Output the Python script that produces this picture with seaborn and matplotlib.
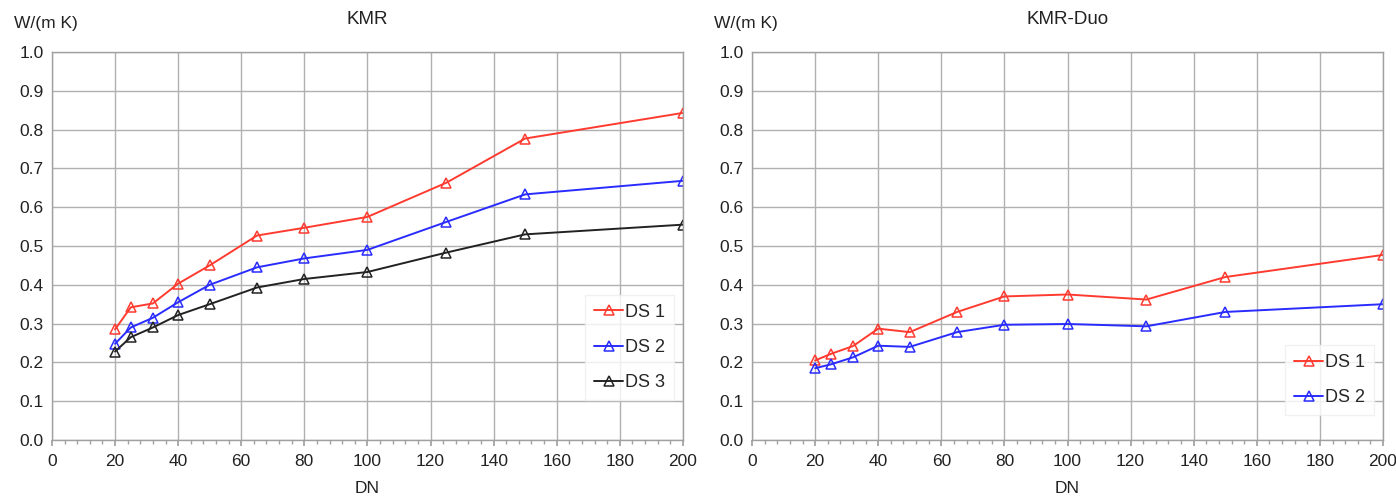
import matplotlib
matplotlib.use("Agg")
import matplotlib.pyplot as plt
import seaborn as sns
import pandas as pd
from matplotlib.ticker import MultipleLocator

dn = [20, 25, 32, 40, 50, 65, 80, 100, 125, 150, 200]

kmr_ds1 = [0.285, 0.342, 0.352, 0.403, 0.450, 0.527, 0.547, 0.575, 0.663, 0.777, 0.843]
kmr_ds2 = [0.248, 0.290, 0.315, 0.355, 0.400, 0.445, 0.468, 0.490, 0.562, 0.633, 0.668]
kmr_ds3 = [0.228, 0.265, 0.290, 0.322, 0.350, 0.393, 0.415, 0.433, 0.483, 0.530, 0.555]

duo_ds1 = [0.205, 0.222, 0.242, 0.287, 0.278, 0.330, 0.370, 0.375, 0.362, 0.420, 0.477]
duo_ds2 = [0.185, 0.195, 0.213, 0.243, 0.240, 0.278, 0.297, 0.299, 0.293, 0.330, 0.350]

titles = ["KMR", "KMR-Duo"]
series_labels = ["DS 1", "DS 2", "DS 3"]
colors = ["#ff3b30", "#2a2cff", "#222222"]

sns.set_theme(style="white")
plt.rcParams['font.family'] = ['Liberation Sans', 'DejaVu Sans']

fig = plt.figure(figsize=(13.96, 5.0), dpi=100)
ax1 = fig.add_axes([0.0372, 0.12, 0.4520, 0.776])
ax2 = fig.add_axes([0.5387, 0.12, 0.4520, 0.776])

panels = [(ax1, [kmr_ds1, kmr_ds2, kmr_ds3]), (ax2, [duo_ds1, duo_ds2])]

for i, (ax, data) in enumerate(panels):
    for j, vals in enumerate(data):
        df = pd.DataFrame({"DN": dn, "val": vals})
        sns.lineplot(data=df, x="DN", y="val", ax=ax, color=colors[j],
                     marker="^", markersize=7, markerfacecolor="none",
                     markeredgecolor=colors[j], markeredgewidth=1.1,
                     linewidth=1.4, label=series_labels[j])
    ax.set_xlim(0, 200)
    ax.set_ylim(0, 1.0)
    ax.xaxis.set_major_locator(MultipleLocator(20))
    ax.yaxis.set_major_locator(MultipleLocator(0.1))
    ax.xaxis.set_minor_locator(MultipleLocator(4))
    ax.yaxis.set_major_formatter(matplotlib.ticker.FormatStrFormatter('%.1f'))
    ax.grid(True, which="major", color="#b0b0b0", linewidth=1.0)
    for s in ax.spines.values():
        s.set_color("#a0a0a0")
        s.set_linewidth(1.0)
    ax.tick_params(axis="both", which="major", labelsize=12.5, colors="#222222",
                   length=0, pad=6)
    ax.tick_params(axis="x", which="minor", bottom=True, length=3, color="#a0a0a0")
    ax.tick_params(axis="x", which="major", bottom=True, length=4, color="#a0a0a0")
    ax.set_xlabel("DN", fontsize=12.5, color="#222222", labelpad=9)
    ax.set_ylabel("")
    ax.set_title(titles[i], fontsize=13.5, color="#222222", pad=20)
    ax.text(-0.06, 1.055, "W/(m K)", transform=ax.transAxes, fontsize=12.5,
            color="#222222", ha="left", va="bottom")
    leg = ax.legend(loc="lower right", bbox_to_anchor=(1.0, 0.08 if i == 0 else 0.04),
                    fontsize=13, frameon=True, fancybox=False, handlelength=1.6,
                    handletextpad=0.1, labelspacing=1.0, borderpad=0.5)
    leg.get_frame().set_edgecolor("#eeeeee")
    leg.get_frame().set_facecolor("white")

fig.savefig("out.png", dpi=100)
